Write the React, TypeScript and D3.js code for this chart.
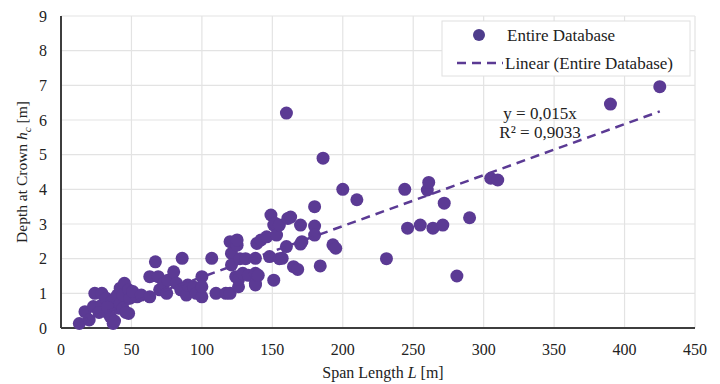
import * as d3 from 'd3'

// span length L [m] and depth at crown hc [m]
const spanLength = [
  13, 17, 20, 23, 24, 29, 29, 32, 32, 35, 36, 37, 40, 41, 42, 42, 44, 44, 45, 48,
  48, 49, 54, 27, 33, 38, 46, 51, 57, 63, 63, 67, 69, 70, 73, 75, 76, 80, 82, 85,
  86, 89, 90, 94, 96, 100, 100, 100, 107, 110, 117, 120, 120, 121, 121, 124, 125, 125, 126, 126,
  127, 129, 131, 133, 138, 138, 138, 138, 139, 140, 142, 146, 148, 149, 151, 151, 152, 153, 155, 155,
  157, 160, 160, 161, 163, 165, 168, 170, 170, 171, 180, 180, 180, 184, 186, 193, 195, 200, 210, 231,
  244, 246, 255, 260, 261, 264, 271, 272, 281, 290, 305, 310, 390, 425
]
const crownDepth = [
  0.13, 0.47, 0.23, 0.62, 1.0, 1.0, 0.66, 0.47, 0.86, 0.33, 0.76, 0.13, 0.95, 0.57, 1.15, 0.71, 0.95, 0.57, 1.29, 0.42,
  1.1, 0.86, 0.9, 0.45, 0.6, 0.2, 0.45, 1.05, 0.95, 0.9, 1.48, 1.91, 1.48, 1.1, 1.29, 1.0, 1.38, 1.62, 1.29, 1.1,
  2.01, 0.95, 1.24, 1.19, 1.0, 1.48, 0.9, 1.19, 2.01, 1.0, 1.0, 1.0, 2.49, 2.15, 1.82, 1.48, 2.39, 2.54, 1.19, 1.4,
  2.0, 1.58, 2.0, 1.52, 2.01, 1.58, 1.29, 1.24, 2.44, 1.52, 2.54, 2.63, 2.06, 3.26, 2.97, 1.38, 3.02, 2.68, 2.0, 2.97,
  2.01, 6.2, 2.35, 3.16, 3.2, 1.77, 1.69, 2.97, 2.42, 2.49, 3.5, 2.94, 2.68, 1.79, 4.9, 2.4, 2.3, 4.0, 3.7, 2.0,
  4.0, 2.88, 2.97, 3.98, 4.2, 2.88, 2.97, 3.6, 1.5, 3.18, 4.32, 4.27, 6.46, 6.96
]
const xTicks = [0, 50, 100, 150, 200, 250, 300, 350, 400, 450]
const yTicks = [0, 1, 2, 3, 4, 5, 6, 7, 8, 9]
const trendSlope = 0.0147
const equationLines = ['y = 0,015x', 'R² = 0,9033']

const W = 720
const H = 384
const margin = { left: 61, right: 25, top: 16, bottom: 56 }
const purple = '#5b3a94'
const font = '"Liberation Serif", "Times New Roman", serif'

export default function App() {
  const x = d3.scaleLinear().domain([0, 450]).range([margin.left, W - margin.right])
  const y = d3.scaleLinear().domain([0, 9]).range([H - margin.bottom, margin.top])

  const points = spanLength.map((l, i) => ({ l, h: crownDepth[i] }))
  const xMin = d3.min(spanLength) as number
  const xMax = d3.max(spanLength) as number
  const trend = d3.line<number>().x(d => x(d)).y(d => y(trendSlope * d))([xMin, xMax]) || ''

  return (
    <svg width={W} height={H}
      style={{ position: 'absolute', left: 0, top: 0, background: '#fff', fontFamily: font }}>
      {/* grid */}
      <g stroke="#e3e3e3" strokeWidth={1.2}>
        {xTicks.slice(1).map(t => (
          <line key={'gx' + t} x1={x(t)} x2={x(t)} y1={y(9)} y2={y(0)} />
        ))}
        {yTicks.slice(1).map(t => (
          <line key={'gy' + t} x1={x(0)} x2={x(450)} y1={y(t)} y2={y(t)} />
        ))}
      </g>

      {/* axes */}
      <line x1={x(0)} x2={x(0)} y1={y(9)} y2={y(0)} stroke="#3d3d3d" strokeWidth={2} />
      <line x1={x(0)} x2={x(450)} y1={y(0)} y2={y(0)} stroke="#3d3d3d" strokeWidth={2} />

      {/* tick labels */}
      <g fontSize={16} fill="#222">
        {xTicks.map(t => (
          <text key={'tx' + t} x={x(t)} y={y(0) + 27} textAnchor="middle">{t}</text>
        ))}
        {yTicks.map(t => (
          <text key={'ty' + t} x={x(0) - 14} y={y(t) + 5.5} textAnchor="end">{t}</text>
        ))}
      </g>

      {/* axis titles */}
      <text x={383} y={378} textAnchor="middle" fontSize={16} fill="#222">
        Span Length <tspan fontStyle="italic">L</tspan> [m]
      </text>
      <text transform={`translate(27, ${(y(0) + y(9)) / 2}) rotate(-90)`} textAnchor="middle" fontSize={15.5} fill="#222">
        Depth at Crown <tspan fontStyle="italic">h</tspan>
        <tspan fontStyle="italic" fontSize={11} dy={4}>c</tspan>
        <tspan dy={-4}> [m]</tspan>
      </text>

      {/* points */}
      <g fill={purple}>
        {points.map((p, i) => (
          <circle key={i} cx={x(p.l)} cy={y(p.h)} r={6.5} />
        ))}
      </g>

      {/* trendline */}
      <path d={trend} fill="none" stroke={purple} strokeWidth={2.5} strokeDasharray="9,6" />

      {/* equation */}
      <g fontSize={17} fill="#222" textAnchor="middle">
        {equationLines.map((s, i) => (
          <text key={s} x={540} y={119 + i * 19}>{s}</text>
        ))}
      </g>

      {/* legend */}
      <rect x={442} y={21} width={248} height={55} fill="#fff" stroke="#e0e0e0" />
      <circle cx={479} cy={35} r={6} fill="#4e3d8c" />
      <text x={507} y={41} fontSize={17} fill="#222">Entire Database</text>
      <line x1={457} x2={503} y1={63} y2={63} stroke={purple} strokeWidth={2.5} strokeDasharray="9,6" />
      <text x={505} y={69} fontSize={17} fill="#222">Linear (Entire Database)</text>
    </svg>
  )
}
